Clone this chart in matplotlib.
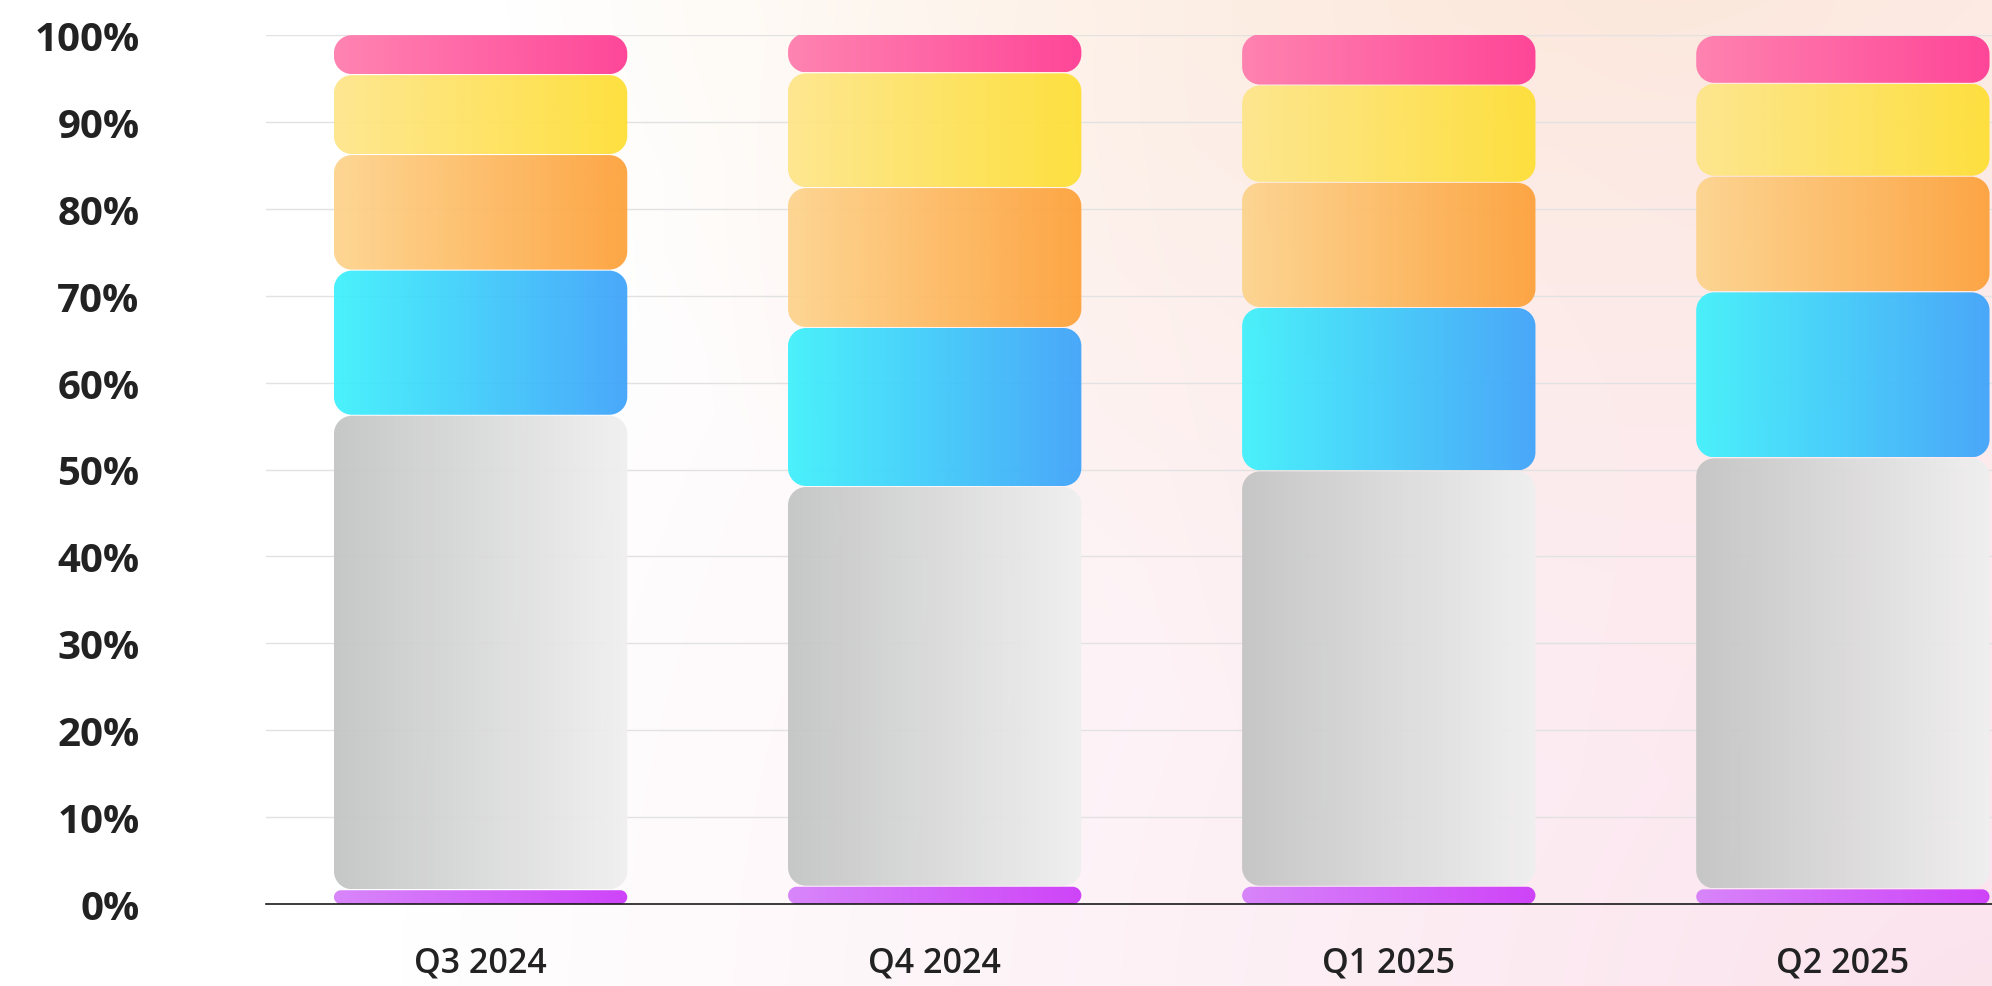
import numpy as np
import matplotlib
matplotlib.use("Agg")
import matplotlib.pyplot as plt
from matplotlib.path import Path
from matplotlib.patches import PathPatch
from matplotlib.colors import to_rgb

# ---------------- data ----------------
categories = ["Q3 2024", "Q4 2024", "Q1 2025", "Q2 2025"]
purple_share = [1.7, 2.1, 2.1, 1.8]
gray_share = [54.6, 46.0, 47.8, 49.6]
blue_share = [16.7, 18.3, 18.8, 19.1]
orange_share = [13.3, 16.1, 14.4, 13.3]
yellow_share = [9.2, 13.2, 11.2, 10.7]
pink_share = [4.6, 4.6, 5.9, 5.5]
y_ticks = [0, 10, 20, 30, 40, 50, 60, 70, 80, 90, 100]
y_tick_labels = [f"{t}%" for t in y_ticks]

series = [
    (purple_share, ("#D67EFB", "#CB38F9")),
    (gray_share, ("#C3C4C4", "#F0F0F0")),
    (blue_share, ("#3EF1FC", "#3FA3FA")),
    (orange_share, ("#FDD48D", "#FDA13A")),
    (yellow_share, ("#FEE68A", "#FEDF34")),
    (pink_share, ("#FF7CAD", "#FF3B93")),
]

# ---------------- figure ----------------
FW, FH, DPI = 1992, 987, 100
fig = plt.figure(figsize=(FW / DPI, FH / DPI), dpi=DPI)

# background gradient
bg = fig.add_axes([0, 0, 1, 1], zorder=-5)
H, W = 247, 498
yy, xx = np.mgrid[0:H, 0:W]
X = xx / (W - 1) * FW
Y = yy / (H - 1) * FH
img = np.ones((H, W, 3))
peach = np.array(to_rgb("#FCE8D0"))
pinkbg = np.array(to_rgb("#FBE2EC"))
d1 = np.hypot(X - 1650, (Y + 100) * 1.3)
w1 = np.clip(1 - d1 / 1150, 0, 1)
d2 = np.hypot(X - 2000, Y - 1050)
w2 = np.clip(1 - d2 / 1600, 0, 1)
img = img * (1 - w1[..., None]) + peach * w1[..., None]
img = img * (1 - w2[..., None]) + pinkbg * w2[..., None]
bg.imshow(img, aspect="auto", interpolation="bilinear", extent=[0, 1, 0, 1])
bg.set_axis_off()

# main axes
left_px, right_px = 266, 1992
zero_px, top_px = 905, 36
ax_pos = [left_px / FW, (FH - zero_px) / FH, (right_px - left_px) / FW, (zero_px - top_px) / FH]
ax = fig.add_axes(ax_pos)
ax.set_facecolor("none")

x = np.arange(len(categories))
xlim = (-0.4726, 3.3284)
ylim = (0, 100)
px_per_x = (right_px - left_px) / (xlim[1] - xlim[0])
px_per_y = (zero_px - top_px) / (ylim[1] - ylim[0])

bar_w = 0.646
radius_px = 18
gap_px = 1.0


def rounded_path(x0, y0, w, h, rx, ry):
    k = 0.5523
    x1, y1 = x0 + w, y0 + h
    verts = [
        (x0 + rx, y0),
        (x1 - rx, y0),
        (x1 - rx + k * rx, y0), (x1, y0 + ry - k * ry), (x1, y0 + ry),
        (x1, y1 - ry),
        (x1, y1 - ry + k * ry), (x1 - rx + k * rx, y1), (x1 - rx, y1),
        (x0 + rx, y1),
        (x0 + rx - k * rx, y1), (x0, y1 - ry + k * ry), (x0, y1 - ry),
        (x0, y0 + ry),
        (x0, y0 + ry - k * ry), (x0 + rx - k * rx, y0), (x0 + rx, y0),
        (x0 + rx, y0),
    ]
    codes = [Path.MOVETO, Path.LINETO,
             Path.CURVE4, Path.CURVE4, Path.CURVE4,
             Path.LINETO,
             Path.CURVE4, Path.CURVE4, Path.CURVE4,
             Path.LINETO,
             Path.CURVE4, Path.CURVE4, Path.CURVE4,
             Path.LINETO,
             Path.CURVE4, Path.CURVE4, Path.CURVE4,
             Path.CLOSEPOLY]
    return Path(verts, codes)


# gridlines
for t in y_ticks[1:]:
    ax.axhline(t, color="#E2E2E2", lw=1.0, zorder=0)

grad = np.linspace(0, 1, 256)
for i, xi in enumerate(x):
    bottom = 0.0
    for vals, (c0, c1) in series:
        v = vals[i]
        y0 = bottom
        h = v - gap_px / px_per_y
        h_px = h * px_per_y
        r_px = min(radius_px, h_px / 2)
        rx = r_px / px_per_x
        ry = r_px / px_per_y
        x0 = xi - bar_w / 2
        path = rounded_path(x0, y0, bar_w, h, rx, ry)
        patch = PathPatch(path, facecolor="none", edgecolor="none", transform=ax.transData)
        ax.add_patch(patch)
        a = np.array(to_rgb(c0))
        b = np.array(to_rgb(c1))
        g = (a[None, :] * (1 - grad[:, None]) + b[None, :] * grad[:, None])[None, :, :]
        im = ax.imshow(g, extent=[x0, x0 + bar_w, y0, y0 + h], aspect="auto",
                       interpolation="bilinear", zorder=2, alpha=0.94, origin="lower")
        im.set_clip_path(patch)
        bottom += v

ax.axhline(0, color="#1A1A1A", lw=1.2, zorder=3, clip_on=False)

ax.set_xlim(*xlim)
ax.set_ylim(*ylim)
for s in ax.spines.values():
    s.set_visible(False)

ax.set_yticks(y_ticks)
ax.set_yticklabels(y_tick_labels, fontfamily="Open Sans", fontweight="bold",
                   fontsize=29, color="#222222")
ax.set_xticks(x)
ax.set_xticklabels(categories, fontfamily="Open Sans", fontweight="semibold",
                   fontsize=24.5, color="#222222")
ax.tick_params(axis="y", length=0, pad=91)
ax.tick_params(axis="x", length=0, pad=30)

fig.savefig("out.png", dpi=DPI)
